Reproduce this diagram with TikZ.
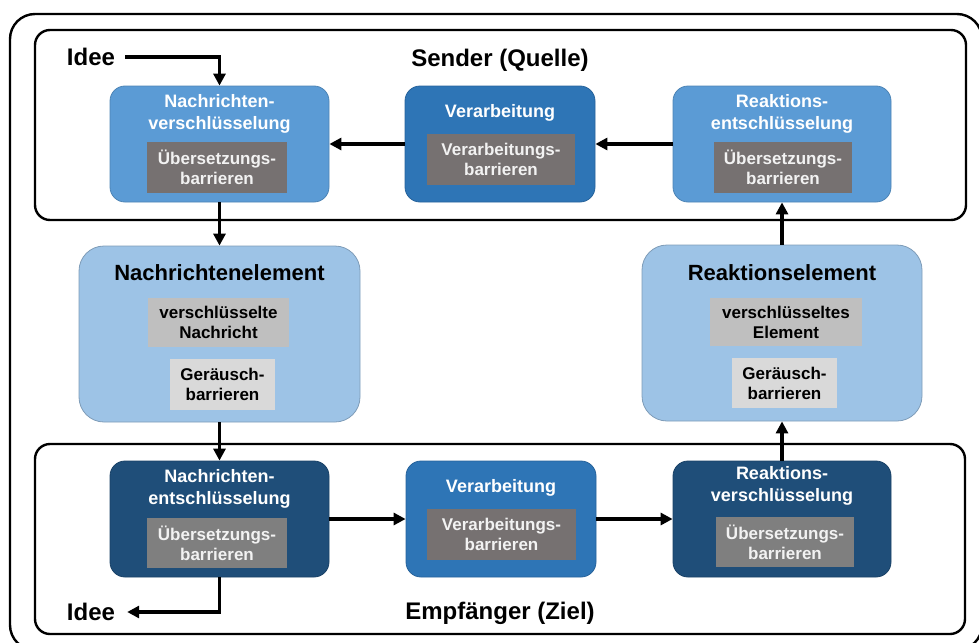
\documentclass[tikz,border=0pt]{standalone}
\usepackage{fontspec}
\setmainfont{Liberation Sans}
\usetikzlibrary{arrows.meta}
\definecolor{cmid}{HTML}{5B9BD5}
\definecolor{cproc}{HTML}{2E75B6}
\definecolor{cdark}{HTML}{1F4E79}
\definecolor{clight}{HTML}{9DC3E6}
\definecolor{gdark}{HTML}{767171}
\definecolor{gbot}{HTML}{7F7F7F}
\definecolor{gmid}{HTML}{BFBFBF}
\definecolor{glight}{HTML}{D9D9D9}
\definecolor{gtext}{HTML}{F2F2F2}
\tikzset{
  frame/.style={draw=black, line width=2.4pt},
  blockbox/.style={rectangle, rounded corners=15pt, inner sep=0pt, line width=0.8pt},
  bigbox/.style={rectangle, rounded corners=25pt, inner sep=0pt, line width=0.8pt, fill=clight, draw=clight!80!black},
  graybox/.style={rectangle, inner sep=0pt, align=center, font=\fontsize{17}{20}\selectfont\bfseries},
  titletext/.style={align=center, inner sep=0pt, font=\fontsize{18}{21.6}\selectfont\bfseries, text=white},
  bigtitle/.style={inner sep=0pt, font=\fontsize{22}{26}\selectfont\bfseries},
  labeltext/.style={inner sep=2pt, font=\fontsize{24}{28}\selectfont\bfseries},
  flow/.style={line width=3.2pt, -{Triangle[length=12pt,width=12pt]}}
}
\begin{document}
\begin{tikzpicture}[x=1pt,y=-1pt]
\useasboundingbox (0,0) rectangle (979,642);
% frames
\draw[frame, rounded corners=25pt] (10,14) rectangle (982,650);
\draw[frame, rounded corners=15pt] (35,30) rectangle (966,220);
\draw[frame, rounded corners=15pt] (35,444) rectangle (965,634);

% sender row
\node[blockbox, fill=cmid, draw=cmid!85!black, minimum width=219pt, minimum height=116pt] (NV) at (219.5,144) {};
\node[titletext] (NVt) at (219.5,114) {Nachrichten-\\verschlüsselung};
\node[graybox, fill=gdark, text=gtext, minimum width=140pt, minimum height=51pt] (NVg) at (217,167.5) {Übersetzungs-\\barrieren};

\node[blockbox, fill=cproc, draw=cproc!85!black, minimum width=190pt, minimum height=116pt] (VT) at (500,144) {};
\node[titletext] (VTt) at (500,113) {Verarbeitung};
\node[graybox, fill=gdark, text=gtext, minimum width=148pt, minimum height=51pt] (VTg) at (501,159.5) {Verarbeitungs-\\barrieren};

\node[blockbox, fill=cmid, draw=cmid!85!black, minimum width=218pt, minimum height=116pt] (RE) at (782,144) {};
\node[titletext] (REt) at (782,114) {Reaktions-\\entschlüsselung};
\node[graybox, fill=gdark, text=gtext, minimum width=138pt, minimum height=51pt] (REg) at (783,167.5) {Übersetzungs-\\barrieren};

% middle row
\node[bigbox, minimum width=281pt, minimum height=176pt] (NM) at (219.5,334) {};
\node[bigtitle] (NMt) at (219.5,273) {Nachrichtenelement};
\node[graybox, fill=gmid, minimum width=141pt, minimum height=49pt] (NMg) at (218.5,322.5) {verschlüsselte\\Nachricht};
\node[graybox, fill=glight, minimum width=105pt, minimum height=51pt] (NMn) at (222.5,384.5) {Geräusch-\\barrieren};

\node[bigbox, minimum width=280pt, minimum height=176pt] (RM) at (782,333) {};
\node[bigtitle] (RMt) at (782,273) {Reaktionselement};
\node[graybox, fill=gmid, minimum width=152pt, minimum height=48pt] (RMg) at (786,322) {verschlüsseltes\\Element};
\node[graybox, fill=glight, minimum width=105pt, minimum height=50pt] (RMn) at (784.5,383) {Geräusch-\\barrieren};

% receiver row
\node[blockbox, fill=cdark, draw=cdark!85!black, minimum width=219pt, minimum height=116pt] (NE) at (219.5,519) {};
\node[titletext] (NEt) at (219.5,489) {Nachrichten-\\entschlüsselung};
\node[graybox, fill=gbot, text=gtext, minimum width=140pt, minimum height=50pt] (NEg) at (217,543) {Übersetzungs-\\barrieren};

\node[blockbox, fill=cproc, draw=cproc!85!black, minimum width=190pt, minimum height=116pt] (VB) at (501,519) {};
\node[titletext] (VBt) at (501,488) {Verarbeitung};
\node[graybox, fill=gdark, text=gtext, minimum width=149pt, minimum height=51pt] (VBg) at (501.5,534.5) {Verarbeitungs-\\barrieren};

\node[blockbox, fill=cdark, draw=cdark!85!black, minimum width=218pt, minimum height=116pt] (RV) at (782,519) {};
\node[titletext] (RVt) at (782,486) {Reaktions-\\verschlüsselung};
\node[graybox, fill=gbot, text=gtext, minimum width=138pt, minimum height=50pt] (RVg) at (785,542) {Übersetzungs-\\barrieren};

% labels
\node[labeltext] (ideeT) at (91,57) {Idee};
\node[labeltext] (ideeB) at (91,612) {Idee};
\node[labeltext] (sender) at (500,60) {Sender (Quelle)};
\node[labeltext] (empf) at (500,613) {Empfänger (Ziel)};

% connectors
\draw[flow] ([xshift=8pt]ideeT.east) -| (NV.north);
\draw[flow] (VT.west) -- (NV.east);
\draw[flow] (RE.west) -- (VT.east);
\draw[flow] (NV.south) -- (NM.north);
\draw[flow] (NM.south) -- (NE.north);
\draw[flow] (NE.east) -- (VB.west);
\draw[flow] (VB.east) -- (RV.west);
\draw[flow] (RV.north) -- (RM.south);
\draw[flow] (RM.north) -- (RE.south);
\draw[flow] (NE.south) |- ([xshift=10pt]ideeB.east);
\end{tikzpicture}
\end{document}
